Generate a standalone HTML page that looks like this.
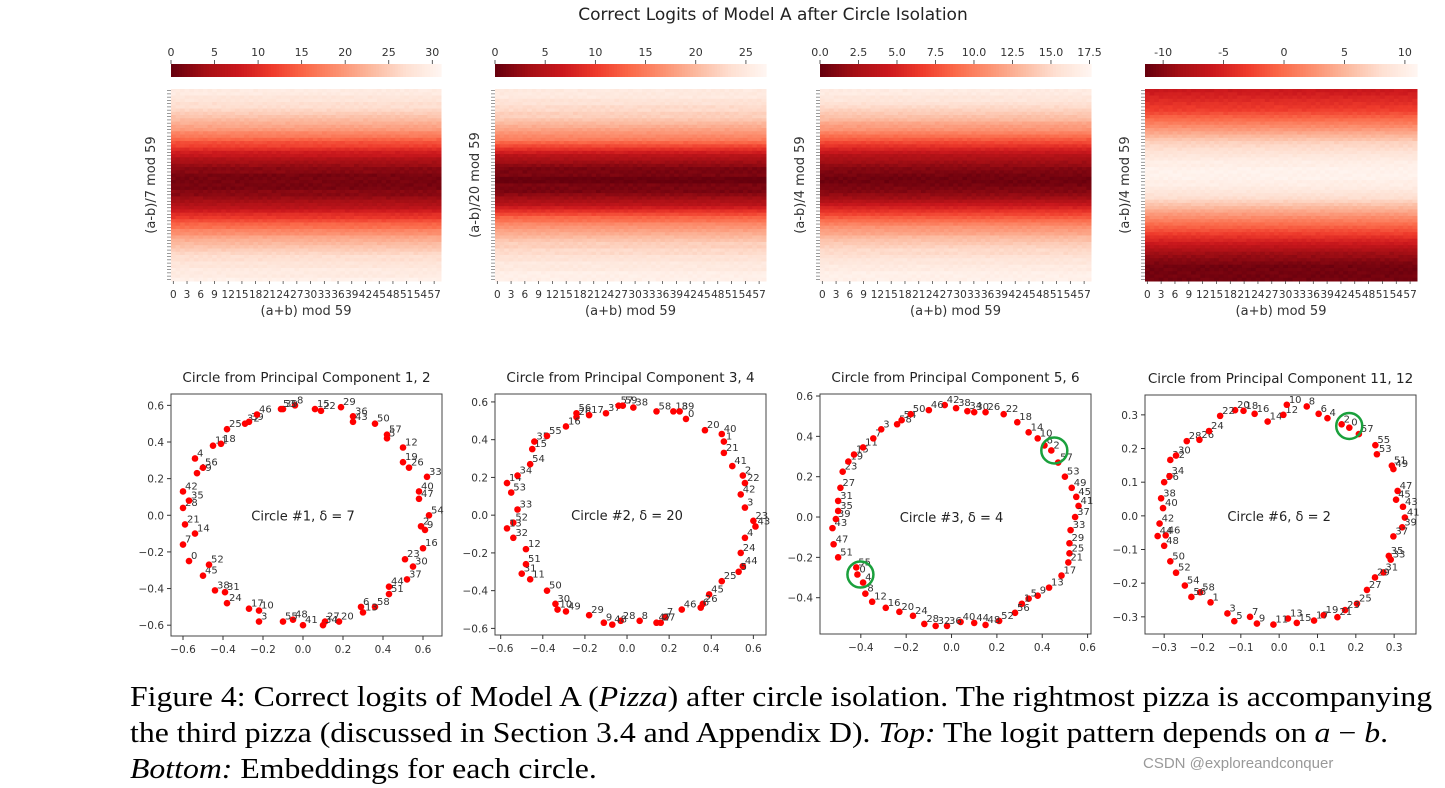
<!DOCTYPE html>
<html><head><meta charset="utf-8"><style>
body{margin:0;background:#fff;width:1445px;height:788px;overflow:hidden;position:relative}
svg{position:absolute;left:0;top:0}
.cap{position:absolute;left:130px;top:680px;font-family:"Liberation Serif",serif;font-size:28px;line-height:36px;color:#000;white-space:nowrap;transform:scaleX(1.135);transform-origin:0 0}
.wm{position:absolute;left:1143px;top:755px;font-family:"Liberation Sans","Noto Sans CJK SC",sans-serif;font-size:15px;color:#999}
</style></head><body>
<svg id="fig" width="1445" height="788" font-family="DejaVu Sans, sans-serif"></svg>
<div class="cap">Figure 4: Correct logits of Model A (<i>Pizza</i>) after circle isolation. The rightmost pizza is accompanying<br>the third pizza (discussed in Section 3.4 and Appendix D). <i>Top:</i> The logit pattern depends on <i>a</i> − <i>b</i>.<br><i>Bottom:</i> Embeddings for each circle.</div>
<div class="wm">CSDN @exploreandconquer</div>
<script>
const heatProfile1=[29,29,28,28,27,27,26,25,24,23,22,21,20,18,17,15,13,12,10,8,7,5,4,3,2,2,1,1,1,1,1,2,2,3,4,5,6,8,10,11,13,15,16,18,19,21,22,23,24,25,26,27,27,28,28,29,29,29,30];
const heatProfile2=[25,25,25,24,24,23,23,22,22,21,20,19,18,17,16,15,13,11,9,7,5,4,3,2,1,1,1,0,0,1,1,1,2,3,4,5,7,9,11,13,14,16,17,18,19,20,21,22,22,23,23,24,24,25,25,25,26,26,26];
const heatProfile3=[16.5,16.5,16,16,15.5,15,14.5,14,13.5,13,12,11.5,11,10,9,8,7,6,5,4,3,2.5,2,1.5,1,0.8,0.5,0.3,0.3,0.5,0.8,1,1.5,2,3,4,5,6,7,8,9,10,11,11.5,12,13,13.5,14,14.5,15,15,15.5,16,16,16.5,16.5,17,17,17];
const heatProfile4=[-6,-5.5,-5,-4.5,-4,-3.5,-3,-2,-1,0,1,2,3,4,5,6,7,7.5,8,8.5,9,9.5,10,10,10.5,10.5,10.5,10.5,10,10,9.5,9,8.5,8,7,6,5,4,3,2,1,0,-1,-2,-3,-4,-5,-6,-7,-8,-9,-9.5,-10,-10.5,-11,-11,-11,-11,-11];
const colWave=[0,0.6,0.3,-0.4,0.5,-0.2,0.4,0.1,-0.5,0.6,0.2,-0.3,0.5,0.1,-0.4,0.3,0.6,-0.2,0.2,0.5,-0.4,0.3,0.1,-0.3,0.6,0.2,-0.1,0.5,-0.4,0.3,0.1,0.6,-0.2,0.4,-0.3,0.2,0.5,-0.1,0.3,-0.4,0.6,0.1,-0.2,0.4,0.2,-0.3,0.5,0.1,-0.4,0.3,0.6,-0.2,0.2,0.4,-0.1,0.5,-0.3,0.2,0.1];
const heatTicks1=[0,5,10,15,20,25,30], heatTicks2=[0,5,10,15,20,25], heatTicks3=[0,2.5,5,7.5,10,12.5,15,17.5], heatTicks4=[-10,-5,0,5,10];
const heatLabels3=["0.0","2.5","5.0","7.5","10.0","12.5","15.0","17.5"];
const heatYLabels=["(a-b)/7 mod 59","(a-b)/20 mod 59","(a-b)/4 mod 59","(a-b)/4 mod 59"];

const circle1=[[8,-0.04,0.60],[39,-0.1,0.58],[15,0.06,0.58],[22,0.09,0.57],[29,0.19,0.59],[36,0.25,0.54],[43,0.25,0.51],[50,0.36,0.50],[57,0.42,0.44],[5,0.42,0.42],[12,0.5,0.37],[19,0.5,0.29],[26,0.53,0.26],[33,0.62,0.21],[40,0.58,0.13],[47,0.58,0.09],[54,0.63,0.0],[2,0.59,-0.06],[9,0.61,-0.08],[16,0.6,-0.18],[23,0.51,-0.24],[30,0.55,-0.28],[37,0.52,-0.35],[44,0.43,-0.39],[51,0.43,-0.43],[58,0.36,-0.50],[6,0.29,-0.50],[13,0.3,-0.53],[20,0.18,-0.58],[27,0.11,-0.58],[34,0.10,-0.60],[41,0.0,-0.60],[48,-0.05,-0.57],[55,-0.1,-0.58],[3,-0.22,-0.58],[10,-0.22,-0.52],[17,-0.27,-0.51],[24,-0.38,-0.48],[31,-0.39,-0.42],[38,-0.44,-0.41],[45,-0.5,-0.33],[52,-0.47,-0.27],[0,-0.57,-0.25],[7,-0.6,-0.16],[14,-0.54,-0.10],[21,-0.59,-0.05],[28,-0.6,0.04],[35,-0.57,0.08],[42,-0.6,0.13],[49,-0.53,0.23],[56,-0.5,0.26],[4,-0.54,0.31],[11,-0.45,0.38],[18,-0.41,0.39],[25,-0.38,0.47],[32,-0.29,0.50],[39,-0.27,0.51],[46,-0.23,0.55],[53,-0.11,0.58]];
const circle2=[[56,-0.24,0.54],[26,-0.24,0.52],[17,-0.18,0.53],[37,-0.10,0.54],[57,-0.04,0.58],[59,-0.02,0.58],[38,0.03,0.57],[58,0.14,0.55],[18,0.22,0.55],[39,0.25,0.55],[0,0.28,0.51],[20,0.37,0.45],[40,0.45,0.43],[1,0.46,0.39],[21,0.46,0.33],[41,0.5,0.26],[2,0.55,0.21],[22,0.56,0.17],[42,0.54,0.11],[3,0.56,0.04],[23,0.6,-0.03],[43,0.61,-0.06],[4,0.56,-0.12],[24,0.54,-0.20],[44,0.55,-0.27],[5,0.53,-0.30],[25,0.45,-0.35],[45,0.39,-0.42],[26,0.36,-0.47],[6,0.35,-0.49],[46,0.26,-0.5],[7,0.18,-0.54],[27,0.16,-0.57],[47,0.14,-0.57],[8,0.06,-0.56],[28,-0.03,-0.56],[48,-0.07,-0.58],[9,-0.11,-0.57],[29,-0.18,-0.53],[49,-0.29,-0.51],[10,-0.33,-0.50],[30,-0.34,-0.47],[50,-0.38,-0.40],[11,-0.46,-0.34],[31,-0.50,-0.31],[51,-0.48,-0.26],[12,-0.48,-0.18],[32,-0.54,-0.12],[52,-0.54,-0.04],[13,-0.57,-0.07],[33,-0.52,0.03],[53,-0.55,0.12],[14,-0.57,0.17],[34,-0.52,0.21],[54,-0.46,0.27],[15,-0.45,0.35],[35,-0.44,0.39],[55,-0.38,0.42],[16,-0.29,0.47]];
const circle3=[[42,-0.03,0.555],[38,0.02,0.54],[34,0.07,0.525],[30,0.1,0.52],[26,0.15,0.52],[22,0.23,0.51],[18,0.29,0.47],[14,0.34,0.42],[10,0.38,0.39],[6,0.41,0.355],[2,0.44,0.33],[57,0.47,0.27],[53,0.5,0.2],[49,0.53,0.145],[45,0.55,0.10],[41,0.56,0.055],[37,0.545,0.0],[33,0.525,-0.065],[29,0.52,-0.13],[25,0.52,-0.18],[21,0.515,-0.225],[17,0.485,-0.29],[13,0.43,-0.35],[9,0.38,-0.39],[5,0.34,-0.405],[1,0.31,-0.43],[56,0.28,-0.475],[52,0.21,-0.515],[48,0.15,-0.535],[44,0.1,-0.525],[40,0.04,-0.52],[36,-0.02,-0.54],[32,-0.07,-0.54],[28,-0.12,-0.53],[24,-0.17,-0.49],[20,-0.23,-0.47],[16,-0.29,-0.45],[12,-0.35,-0.42],[8,-0.38,-0.38],[4,-0.39,-0.325],[0,-0.415,-0.285],[55,-0.42,-0.25],[51,-0.5,-0.2],[47,-0.52,-0.135],[43,-0.525,-0.055],[39,-0.51,-0.01],[35,-0.5,0.03],[31,-0.5,0.08],[27,-0.49,0.145],[23,-0.48,0.225],[19,-0.455,0.275],[15,-0.43,0.31],[11,-0.39,0.345],[7,-0.345,0.39],[3,-0.31,0.435],[58,-0.24,0.46],[54,-0.22,0.48],[50,-0.18,0.51],[46,-0.1,0.53]];
const circle4=[[20,-0.115,0.314],[18,-0.093,0.312],[16,-0.064,0.303],[14,-0.03,0.28],[12,0.011,0.30],[10,0.02,0.33],[8,0.072,0.325],[6,0.103,0.303],[4,0.126,0.29],[2,0.163,0.272],[0,0.183,0.262],[57,0.208,0.243],[55,0.251,0.21],[53,0.255,0.183],[51,0.294,0.149],[49,0.298,0.139],[47,0.309,0.074],[45,0.305,0.048],[43,0.323,0.027],[41,0.328,-0.005],[39,0.321,-0.034],[37,0.298,-0.061],[35,0.286,-0.119],[33,0.291,-0.13],[31,0.272,-0.168],[29,0.25,-0.183],[27,0.229,-0.22],[25,0.203,-0.261],[23,0.172,-0.28],[21,0.152,-0.301],[19,0.116,-0.295],[17,0.091,-0.311],[15,0.046,-0.318],[13,0.023,-0.305],[11,-0.015,-0.323],[9,-0.058,-0.32],[7,-0.076,-0.30],[5,-0.117,-0.313],[3,-0.135,-0.29],[1,-0.179,-0.257],[58,-0.206,-0.227],[56,-0.229,-0.241],[54,-0.246,-0.207],[52,-0.269,-0.169],[50,-0.284,-0.135],[48,-0.3,-0.089],[46,-0.296,-0.058],[44,-0.317,-0.06],[42,-0.312,-0.023],[40,-0.303,0.023],[38,-0.308,0.052],[36,-0.3,0.1],[34,-0.286,0.118],[32,-0.284,0.166],[30,-0.269,0.179],[28,-0.241,0.222],[26,-0.208,0.226],[24,-0.183,0.252],[22,-0.154,0.297]];
const circleTitles=["Circle from Principal Component 1, 2","Circle from Principal Component 3, 4","Circle from Principal Component 5, 6","Circle from Principal Component 11, 12"];
const circleNotes=["Circle #1, δ = 7","Circle #2, δ = 20","Circle #3, δ = 4","Circle #6, δ = 2"];
const ticksA=[-0.6,-0.4,-0.2,0,0.2,0.4,0.6], ticksB=[-0.4,-0.2,0,0.2,0.4,0.6], ticksC=[-0.3,-0.2,-0.1,0,0.1,0.2,0.3];
const highlights3=[[0.44,0.33],[-0.415,-0.285]], highlights4=[[0.175,0.267]];

const NS="http://www.w3.org/2000/svg", svg=document.getElementById('fig');
function mk(tag,attrs,parent,text){const e=document.createElementNS(NS,tag);for(const k in attrs)e.setAttribute(k,attrs[k]);if(text!==undefined)e.textContent=text;(parent||svg).appendChild(e);return e;}
const stops=[[255,245,240],[254,224,210],[252,187,161],[252,146,114],[251,106,74],[239,59,44],[203,24,29],[165,15,21],[103,0,13]];
function reds(t){t=Math.max(0,Math.min(1,t));const p=t*8,i=Math.min(7,Math.floor(p)),f=p-i,a=stops[i],b=stops[i+1];return `rgb(${Math.round(a[0]+(b[0]-a[0])*f)},${Math.round(a[1]+(b[1]-a[1])*f)},${Math.round(a[2]+(b[2]-a[2])*f)})`;}

const tt=mk('text',{x:773,y:20,'text-anchor':'middle','font-size':17,fill:'#222'},svg,"Correct Logits of Model A after Circle Isolation");


function heatmap(idx,left,right,profile,vmin,vmax,ticks,tickLabels){
  const g=mk('g',{});
  
  const top=89,bot=281,n=59,cw=(right-left)/n,ch=(bot-top)/n;
  const sx=v=>left+(v-vmin)/(vmax-vmin)*(right-left);
  const cb=mk('g',{},g);
  for(let i=0;i<100;i++){mk('rect',{x:left+i*(right-left)/100,y:64,width:(right-left)/100+0.6,height:13,fill:reds(1-i/99)},cb);}
  ticks.forEach((t,k)=>{const x=sx(t);mk('line',{x1:x,x2:x,y1:60,y2:64,stroke:'#333','stroke-width':0.8},cb);
    const l=mk('text',{x:x,y:56,'text-anchor':'middle','font-size':11,fill:'#333'},cb,tickLabels?tickLabels[k]:String(t));
    });
  for(let r=0;r<n;r++)for(let c=0;c<n;c++){
    const v=profile[r]+colWave[(c*7+r)%59]*(vmax-vmin)*0.03;
    mk('rect',{x:left+c*cw,y:top+r*ch,width:cw+0.5,height:ch+0.5,fill:reds(1-(v-vmin)/(vmax-vmin))},g);}
  for(let r=0;r<n;r++){mk('line',{x1:left-4,x2:left,y1:top+(r+0.5)*ch,y2:top+(r+0.5)*ch,stroke:'#555','stroke-width':0.6},g);}
  for(let c=0;c<n;c+=3){const x=left+(c+0.5)*cw;mk('line',{x1:x,x2:x,y1:bot,y2:bot+3,stroke:'#333','stroke-width':0.7},g);
    const l=mk('text',{x:x,y:bot+17,'text-anchor':'middle','font-size':10.5,fill:'#333'},g,String(c));
    }
  const xl=mk('text',{x:(left+right)/2,y:bot+34,'text-anchor':'middle','font-size':13,fill:'#333'},g,"(a+b) mod 59");
  
  const yl=mk('text',{x:0,y:0,'text-anchor':'middle','font-size':13,fill:'#333',transform:`translate(${left-16},${(top+bot)/2}) rotate(-90)`},g,heatYLabels[idx]);
  
}
heatmap(0,171,441,heatProfile1,0,31,heatTicks1);
heatmap(1,495,766,heatProfile2,0,27,heatTicks2);
heatmap(2,820,1091,heatProfile3,0,17.6,heatTicks3,heatLabels3);
heatmap(3,1145,1417,heatProfile4,-11.5,11,heatTicks4);

function scatter(idx,left,right,top,bot,xr,yr,pts,xt,yt,hl){
  const g=mk('g',{});
  
  const sx=v=>left+(v-xr[0])/(xr[1]-xr[0])*(right-left), sy=v=>bot-(v-yr[0])/(yr[1]-yr[0])*(bot-top);
  const t=mk('text',{x:(left+right)/2,y:top-12,'text-anchor':'middle','font-size':13.5,fill:'#222'},g,circleTitles[idx]);
  
  mk('rect',{x:left,y:top,width:right-left,height:bot-top,fill:'none',stroke:'#444','stroke-width':1},g);
  const fmt=v=>(Math.abs(v)<1e-9?'0.0':v.toFixed(1)).replace('-','−');
  xt.forEach(v=>{const x=sx(v);mk('line',{x1:x,x2:x,y1:bot,y2:bot+4,stroke:'#333'},g);
    const l=mk('text',{x:x,y:bot+17,'text-anchor':'middle','font-size':10.5,fill:'#333'},g,fmt(v));
    });
  yt.forEach(v=>{const y=sy(v);mk('line',{x1:left-4,x2:left,y1:y,y2:y,stroke:'#333'},g);
    const l=mk('text',{x:left-7,y:y+4,'text-anchor':'end','font-size':10.5,fill:'#333'},g,fmt(v));
    });
  pts.forEach(p=>{const c=mk('circle',{cx:sx(p[1]),cy:sy(p[2]),r:3.3,fill:'#f00'},g);
    
    const l=mk('text',{x:sx(p[1])+2,y:sy(p[2])-2,'font-size':10,fill:'#333'},g,String(p[0]));
    });
  const n=mk('text',{x:sx(0),y:sy(0)+5,'text-anchor':'middle','font-size':13,fill:'#222'},g,circleNotes[idx]);
  
  (hl||[]).forEach(h=>{const c=mk('circle',{cx:sx(h[0])+3,cy:sy(h[1]),r:13,fill:'none',stroke:'#1aa03c','stroke-width':2.5},g);
    });
}
scatter(0,171,442,394,636,[-0.66,0.695],[-0.659,0.662],circle1,ticksA,ticksA);
scatter(1,495,766,394,635,[-0.627,0.66],[-0.635,0.642],circle2,ticksA,ticksA);
scatter(2,820,1091,394,634,[-0.58,0.615],[-0.58,0.61],circle3,ticksB,ticksB,highlights3);
scatter(3,1145,1416,395,634,[-0.35,0.357],[-0.351,0.359],circle4,ticksC,ticksC,highlights4);
</script>
</body></html>
